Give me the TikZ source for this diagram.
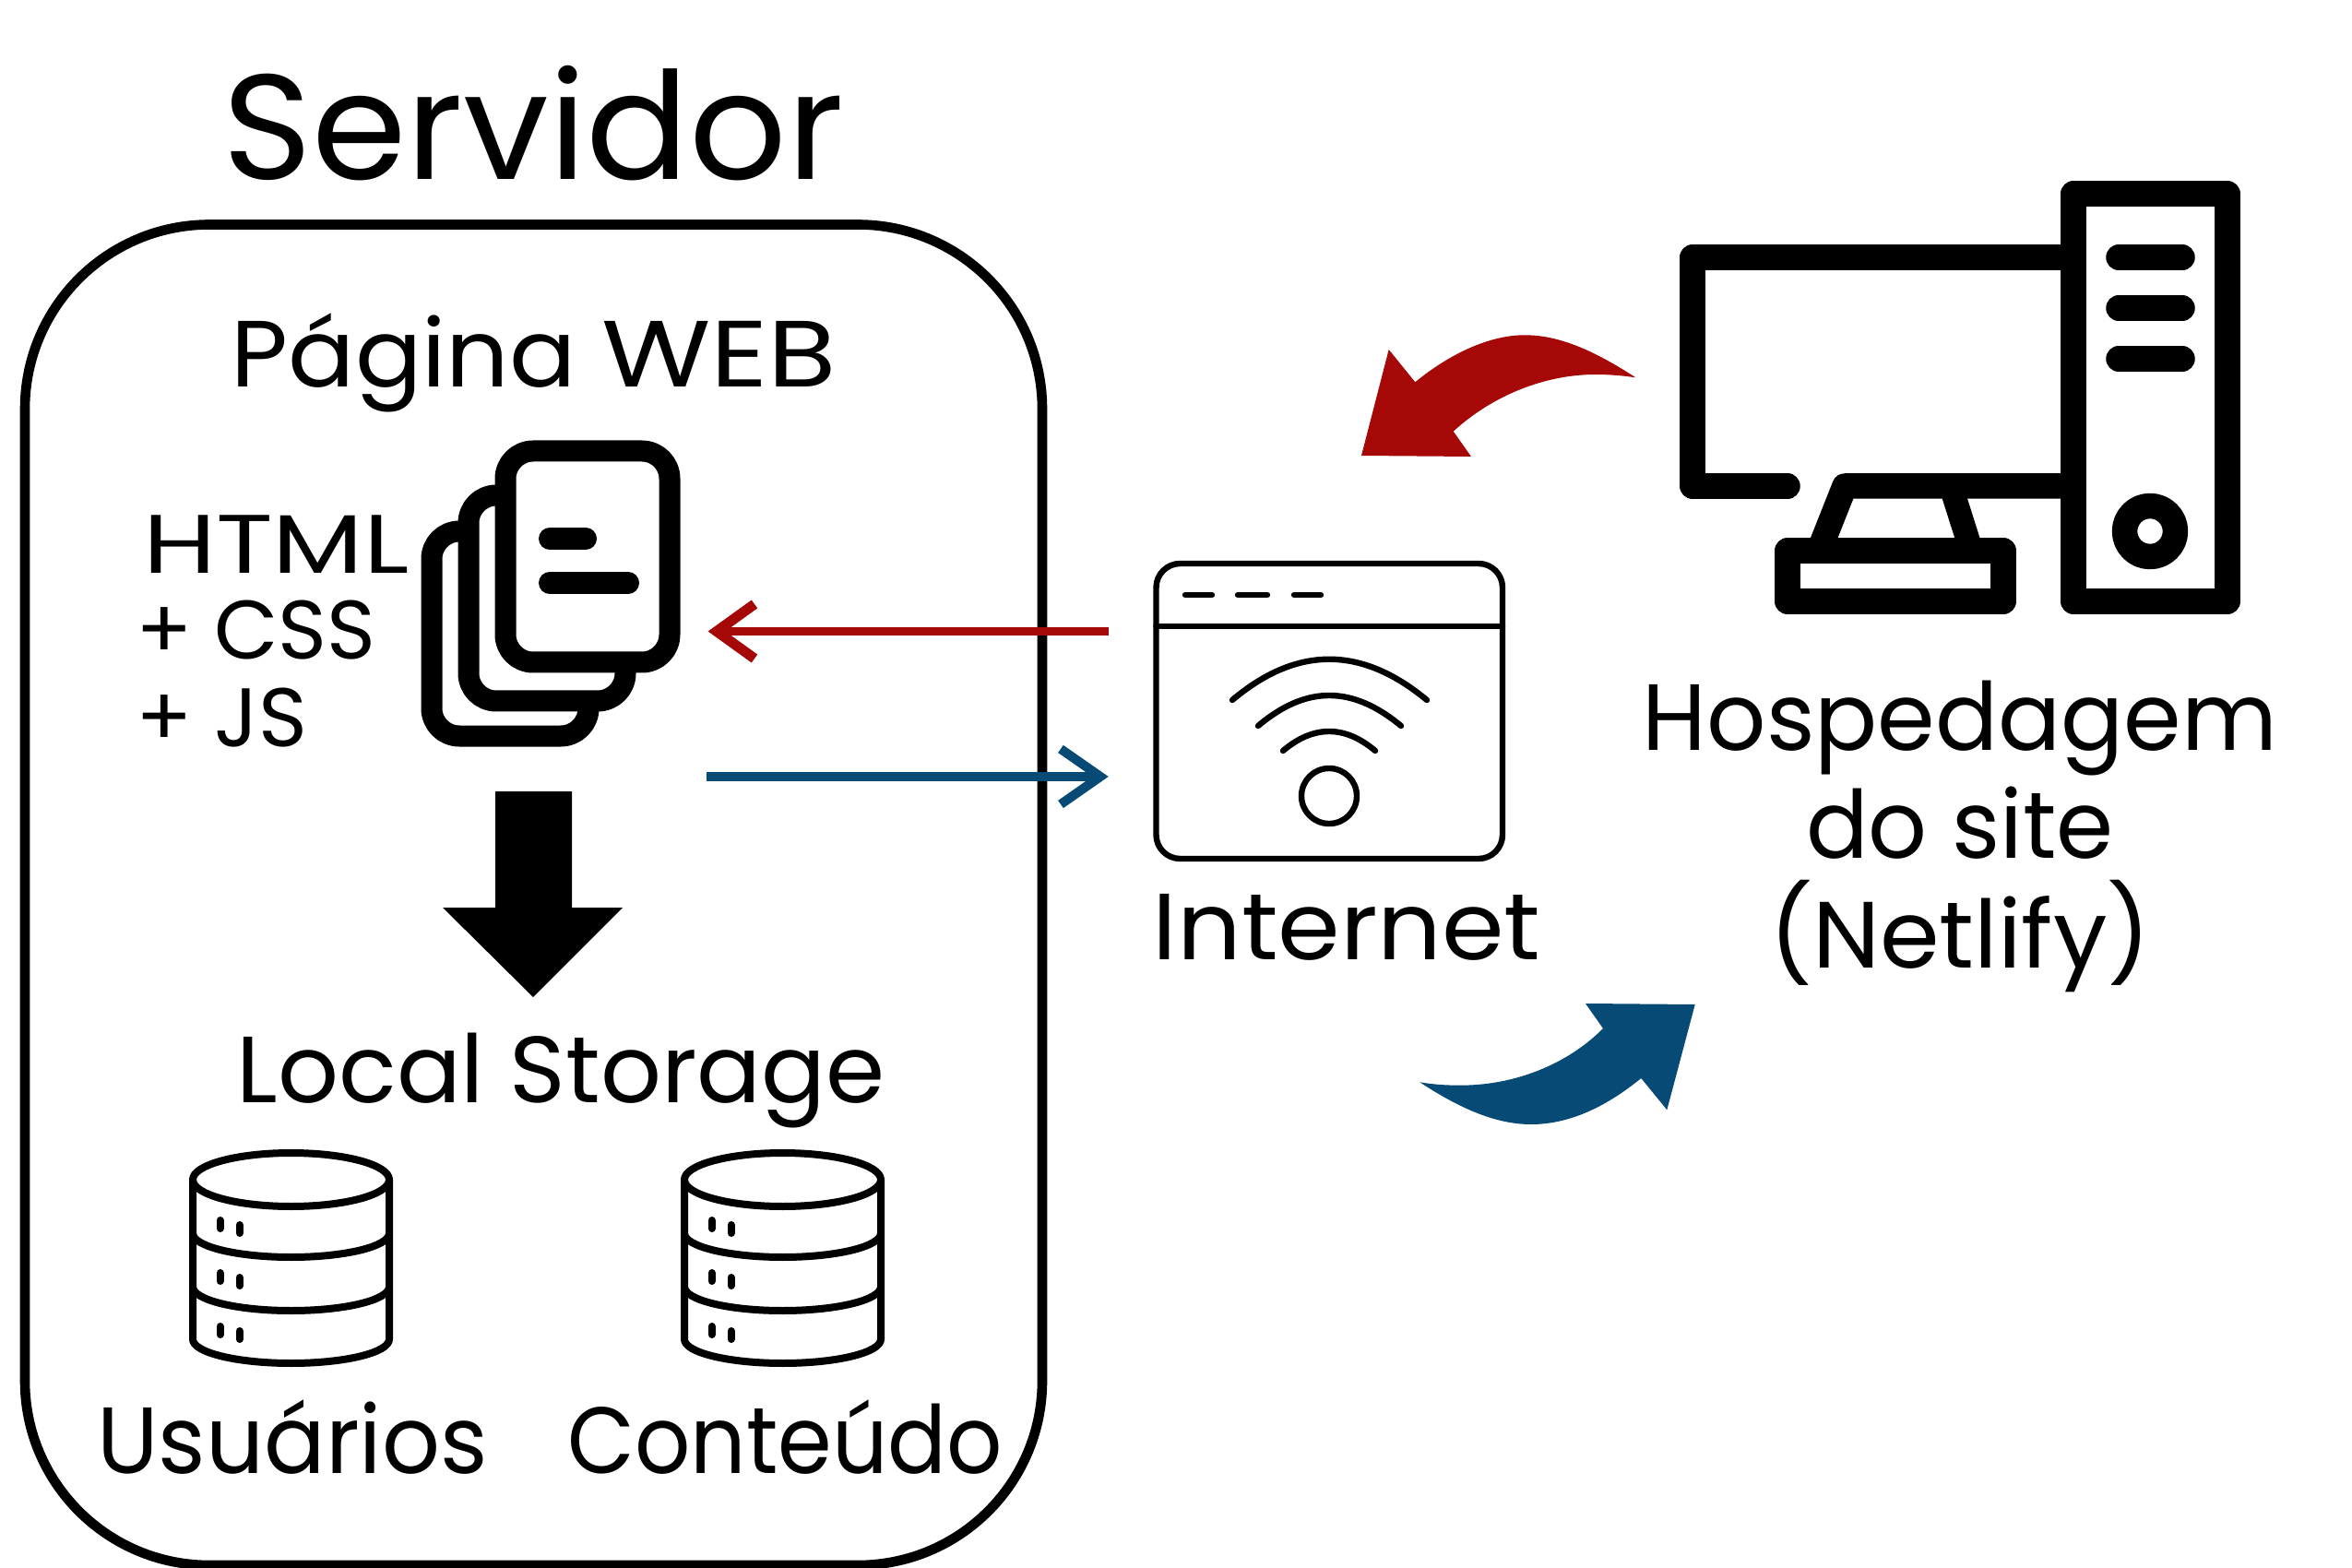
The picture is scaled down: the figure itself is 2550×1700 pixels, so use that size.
\documentclass[tikz,border=0pt]{standalone}
\usepackage{fontspec}
\usepackage{graphicx}
\setmainfont{Poppins}
\definecolor{redarrow}{HTML}{A50806}
\definecolor{bluearrow}{HTML}{074A75}
\newcommand{\fs}[1]{\fontsize{#1}{#1}\selectfont}
\newcommand{\hs}[2]{\scalebox{#1}[1]{#2}}
\tikzset{
  label/.style={inner sep=0pt,outer sep=0pt,anchor=base,font=\fs{51}},
  sidelabel/.style={inner sep=0pt,outer sep=0pt,anchor=base west,font=\fs{45}},
  heavy/.style={draw=black,line width=13.75pt,line join=round,fill=none},
  heavycap/.style={heavy,line cap=round},
  page/.style={draw=black,line width=11.5pt,fill=none,rounded corners=15pt},
  pagebar/.style={draw=black,line width=12pt,line cap=round},
  win/.style={draw=black,line width=3.2pt,fill=none,line cap=round},
  dbline/.style={draw=black,line width=4pt,fill=none,line cap=round,line join=round},
  redline/.style={draw=redarrow,line width=4.8pt},
  blueline/.style={draw=bluearrow,line width=5pt},
  dbicon/.pic={
    \path[dbline] (0,0) ellipse[x radius=106.5,y radius=29];
    \path[dbline] (-106.5,0) -- (-106.5,173) arc[start angle=180,end angle=360,x radius=106.5,y radius=-26] -- (106.5,0);
    \path[dbline] (-106.5,58) arc[start angle=180,end angle=360,x radius=106.5,y radius=-26];
    \path[dbline] (-106.5,116) arc[start angle=180,end angle=360,x radius=106.5,y radius=-26];
    \foreach \dy in {0,57,115}{
      \path[dbline] (-77,44+\dy) -- (-77,53+\dy);
      \path[dbline] (-56,49+\dy) -- (-56,58+\dy);
    }
  }
}
\begin{document}
\begin{tikzpicture}[x=0.5pt,y=-0.5pt]
\useasboundingbox (0,0) rectangle (2550,1700);
\fill[white] (0,0) rectangle (2550,1700);

% Server container
\node[draw=black,line width=5.3pt,rounded corners=100pt,minimum width=551.5pt,minimum height=726.75pt,inner sep=0pt,outer sep=0pt,anchor=center] (server) at (578.5,970.25) {};

% Texts
\node[label,font=\fs{81}] (servidor) at (578,195) {\hs{1.02}{Servidor}};
\node[label] (pagina) at (579,420) {\hs{1.05}{Página} \hs{1.19}{WEB}};
\node[sidelabel] (html) at (155,622) {\hs{1.27}{HTML}};
\node[sidelabel] (css) at (147,715) {+ CSS};
\node[sidelabel] (js) at (147,810) {+ JS};
\node[label] (local) at (608,1195) {\hs{1.012}{Local Storage}};
\node[label] (usuarios) at (317,1597) {\hs{.966}{Usuários}};
\node[label] (conteudo) at (851,1597) {\hs{.926}{Conteúdo}};
\node[label] (internet) at (1460,1040) {\hs{1.067}{Internet}};
\node[label] (hosp) at (2125,813) {\hs{.988}{Hospedagem}};
\node[label] (dosite) at (2125,930) {\hs{.98}{do site}};
\node[label] (netlify) at (2125,1049) {\hs{1.02}{(Netlify)}};

% Pages icon
\draw[page] (548,489) rectangle (726,718);
\draw[page] (548,537) -- (508,537) -- (508,760) -- (678,760) -- (678,724);
\draw[page] (508,576) -- (468,576) -- (468,798) -- (638,798) -- (638,764);
\draw[pagebar] (596,584) -- (635,584);
\draw[pagebar] (596,632) -- (681,632);

% Big black arrow
\fill[black] (537,858) -- (620,858) -- (620,984) -- (675,984) -- (578,1081) -- (480,984) -- (537,984) -- cycle;

% Databases
\pic at (315.5,1279) {dbicon};
\pic at (848.5,1279) {dbicon};

% Horizontal arrows
\coordinate (redstart) at (1202,684.5);
\coordinate (redend) at (777,684.5);
\coordinate (redw1) at (818,655);
\coordinate (redw2) at (818,714);
\coordinate (bluestart) at (766,842);
\coordinate (blueend) at (1193,842);
\coordinate (bluew1) at (1150,812);
\coordinate (bluew2) at (1150,872);
\draw[redline] (redstart) -- (redend);
\draw[redline,line width=5.5pt] (redw1) -- (redend) -- (redw2);
\draw[blueline] (bluestart) -- (blueend);
\draw[blueline] (bluew1) -- (blueend) -- (bluew2);

% Internet window
\draw[win,rounded corners=13pt] (1253.5,611) rectangle (1629,931);
\draw[win] (1253.5,679) -- (1629,679);
\draw[win] (1285,645) -- (1314,645);
\draw[win] (1342,645) -- (1374,645);
\draw[win] (1403,645) -- (1432,645);
\draw[win] (1336,759) .. controls (1406,700) and (1476,700) .. (1547,759);
\draw[win] (1364,787) .. controls (1416,743) and (1466,743) .. (1519,787);
\draw[win] (1391,814) .. controls (1424,786) and (1458,786) .. (1491,814);
\draw[win] (1441,863) circle[radius=30];

% Computer icon
\draw[heavy] (2248,210) rectangle (2415,652);
\draw[heavycap] (2297,279) -- (2366,279);
\draw[heavycap] (2297,334) -- (2366,334);
\draw[heavycap] (2297,389) -- (2366,389);
\draw[heavy] (2331,576) circle[radius=27.5];
\draw[heavy,line cap=round] (2234,279) -- (1835,279) -- (1835,527) -- (1938,527);
\draw[heavy] (2234,527) -- (2000,527) -- (1975,590);
\draw[heavy,line width=13pt] (2116,530) -- (2135,590);
\draw[heavy] (1938,597) rectangle (2172,652);

% Curved arrows
\fill[redarrow] (1773.3,409.3) .. controls (1733.3,383.3) and (1693.3,363.3) .. (1653.3,363.3)
  .. controls (1613.3,363.3) and (1570,385) .. (1534.3,414.3)
  -- (1505.7,379) -- (1476,494) -- (1595,495) -- (1575.7,467.7)
  .. controls (1616.7,430) and (1673.3,406) .. (1730,406)
  .. controls (1745,406) and (1760,407.3) .. (1773.3,409.3) -- cycle;
\fill[bluearrow] (1539.3,1173.3) .. controls (1580,1200) and (1620,1219) .. (1660,1219)
  .. controls (1703.3,1219) and (1743.3,1198.3) .. (1779.3,1169)
  -- (1807.3,1203.3) -- (1837.7,1089) -- (1719,1088) -- (1738,1115)
  .. controls (1700,1153.3) and (1643.3,1176.7) .. (1583.3,1176.7)
  .. controls (1566.7,1176.7) and (1553.3,1175.7) .. (1539.3,1173.3) -- cycle;
\end{tikzpicture}
\end{document}
